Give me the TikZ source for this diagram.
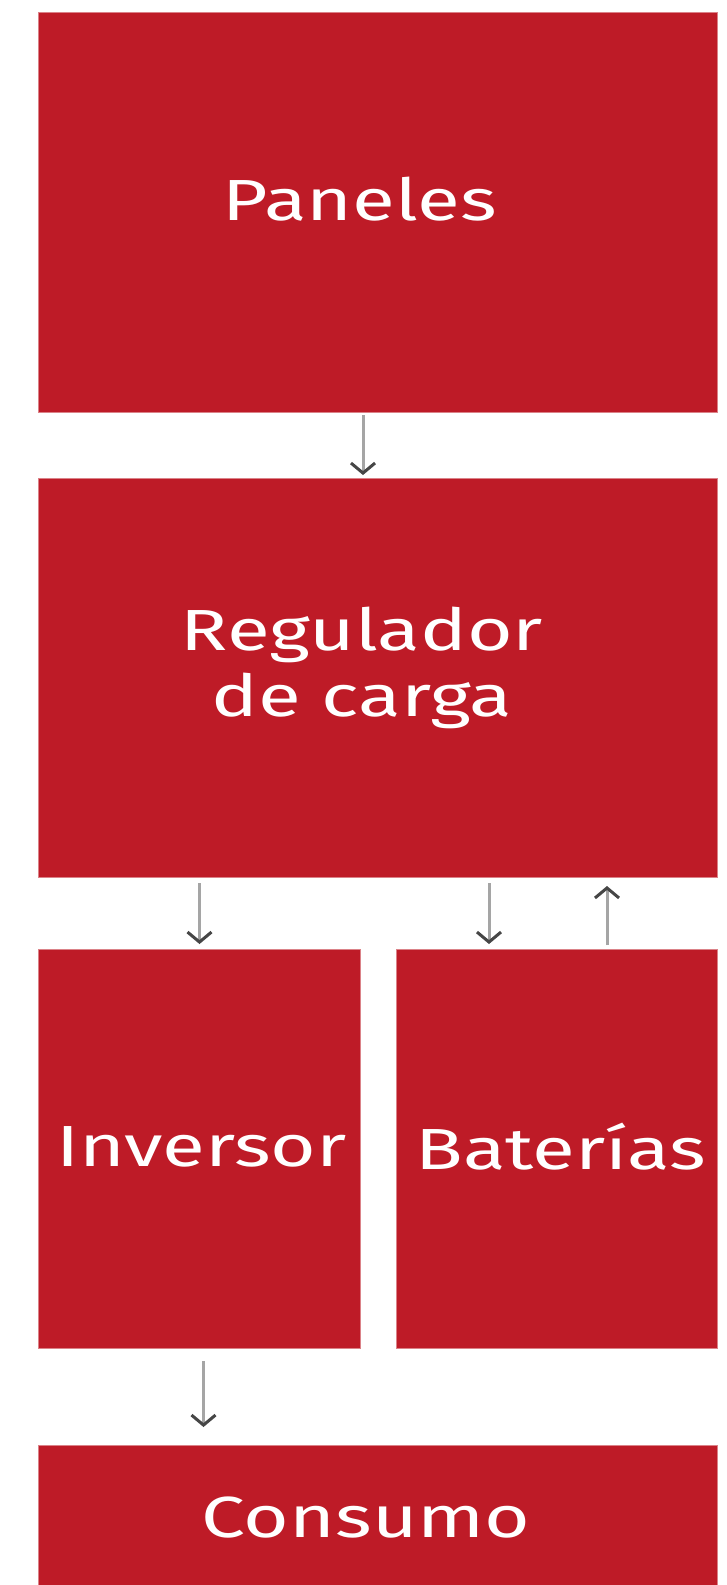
\documentclass[tikz,border=0pt]{standalone}
\usepackage{fontspec}
\setmainfont{Fira Sans}[FakeStretch=1.35]
\usetikzlibrary{arrows.meta}
\definecolor{boxred}{RGB}{190,27,39}
\definecolor{lineg}{RGB}{165,165,165}
\definecolor{headg}{RGB}{70,70,70}
\begin{document}
\begin{tikzpicture}[x=1pt,y=-1pt,
  blk/.style={fill=boxred,draw=boxred!55!white,line width=1pt,inner sep=0pt,anchor=north west},
  lbl/.style={inner sep=0pt,text=white,font=\fontsize{58}{66}\selectfont,align=center},
  arr/.style={draw=lineg,line width=3pt,
    -{Straight Barb[length=10pt,width=24pt,line width=3pt,color=headg]}}]
\useasboundingbox[fill=white] (0,0) rectangle (726,1585);
\node[blk,minimum width=679pt,minimum height=400pt] (pan) at (38,12) {};
\node[blk,minimum width=679pt,minimum height=399pt] (reg) at (38,478) {};
\node[blk,minimum width=322pt,minimum height=399pt] (inv) at (38,949) {};
\node[blk,minimum width=321pt,minimum height=399pt] (bat) at (396,949) {};
\node[blk,minimum width=679pt,minimum height=150pt] (con) at (38,1445) {};
\node[lbl,xshift=-18pt,yshift=13pt] (panL) at (pan.center) {Paneles};
\node[lbl,xshift=-16pt,yshift=10pt] (regL) at (reg.center) {Regulador\\de carga};
\node[lbl,xshift=2pt,yshift=2pt] (invL) at (inv.center) {Inversor};
\node[lbl,xshift=4pt,yshift=2pt] (batL) at (bat.center) {Baterías};
\node[lbl,xshift=-12pt,yshift=3pt] (conL) at (con.center) {Consumo};
\draw[arr,shorten <=2pt,shorten >=3pt] ([xshift=-15pt]pan.south) -- ([xshift=-15pt]reg.north);
\draw[arr,shorten <=5pt,shorten >=5pt] (reg.south -| inv.north) -- (inv.north);
\draw[arr,shorten <=5pt,shorten >=5pt] ([xshift=-68pt]reg.south -| bat.north) -- ([xshift=-68pt]bat.north);
\draw[arr,shorten <=4pt,shorten >=8pt] ([xshift=50pt]bat.north) -- ([xshift=50pt]reg.south -| bat.north);
\draw[arr,shorten <=12pt,shorten >=18pt] ([xshift=4pt]inv.south) -- ([xshift=4pt]con.north -| inv.south);
\end{tikzpicture}
\end{document}
